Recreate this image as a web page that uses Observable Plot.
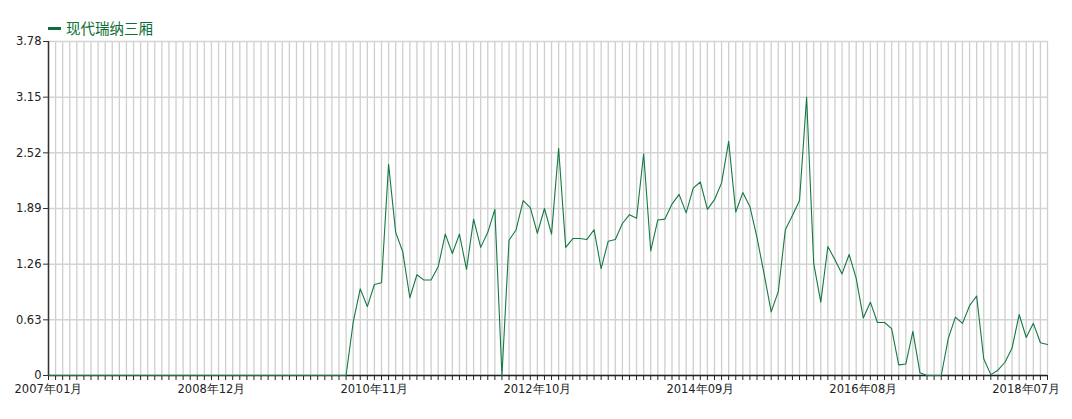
<!DOCTYPE html>
<html>
<head>
<meta charset="utf-8">
<script src="https://cdn.jsdelivr.net/npm/d3@7"></script>
<script src="https://cdn.jsdelivr.net/npm/@observablehq/plot@0.6"></script>
<style>
  html, body { margin: 0; padding: 0; background: #fff; }
  #wrap { position: relative; width: 1072px; height: 419px; }
  #legend { position: absolute; top: 18px; left: 48px; height: 20px; display: flex; align-items: center;
    font-family: "Noto Sans CJK SC", sans-serif; font-size: 14.5px; color: #0c6e38; line-height: 20px; }
  #legend .sw { display: inline-block; width: 13px; height: 3px; background: #0c6e38; margin-right: 5px; }
  svg { display: block; }
</style>
</head>
<body>
<div id="wrap">
<div id="chart"></div>
<div id="legend"><span class="sw"></span><span>现代瑞纳三厢</span></div>
</div>
<script>
const seriesName = "现代瑞纳三厢";
const startYear = 2007;
const monthCount = 142;
const months = [];
for (let i = 0; i < monthCount; i++) {
  const y = startYear + Math.floor(i / 12);
  const m = (i % 12) + 1;
  months.push(`${y}年${String(m).padStart(2, "0")}月`);
}
const values = [
  0,0,0,0,0,0,0,0,0,0,
  0,0,0,0,0,0,0,0,0,0,
  0,0,0,0,0,0,0,0,0,0,
  0,0,0,0,0,0,0,0,0,0,
  0,0,0,
  0.60,0.98,0.78,1.03,1.05,2.39,1.62,1.40,0.88,1.14,
  1.08,1.08,1.23,1.60,1.38,1.60,1.20,1.77,1.45,1.62,
  1.88,0,1.53,1.65,1.98,1.90,1.61,1.89,1.60,2.57,
  1.45,1.55,1.55,1.54,1.65,1.21,1.52,1.54,1.72,1.82,
  1.78,2.51,1.41,1.76,1.77,1.94,2.05,1.84,2.12,2.19,
  1.88,1.99,2.18,2.65,1.85,2.07,1.91,1.56,1.15,0.72,
  0.95,1.65,1.81,1.98,3.15,1.27,0.83,1.46,1.31,1.15,
  1.37,1.10,0.65,0.83,0.60,0.60,0.53,0.12,0.13,0.50,
  0.03,0,0,0,0.42,0.66,0.59,0.79,0.90,0.19,
  0.01,0.06,0.15,0.31,0.69,0.43,0.59,0.37,0.35
];
const yTicks = [0, 0.63, 1.26, 1.89, 2.52, 3.15, 3.78];
const xLabelTicks = ["2007年01月","2008年12月","2010年11月","2012年10月","2014年09月","2016年08月","2018年07月"];

const data = months.map((m, i) => ({month: m, value: values[i]}));

const chart = Plot.plot({
  width: 1072,
  height: 419,
  marginTop: 41,
  marginBottom: 44,
  marginLeft: 48,
  marginRight: 25,
  style: {fontFamily: "DejaVu Sans, sans-serif", fontSize: "11.5px", color: "#222", background: "#fff"},
  x: {type: "point", domain: months, padding: 0, round: false},
  y: {domain: [0, 3.78]},
  marks: [
    Plot.gridX(months, {stroke: "#cfcfcf", strokeOpacity: 1, strokeWidth: 1.3}),
    Plot.gridY(yTicks, {stroke: "#d4d4d4", strokeOpacity: 1, strokeWidth: 1.5}),
    Plot.axisY({ticks: yTicks, tickFormat: d => String(d), tickSize: 5, tickPadding: 2, label: null, stroke: "#333"}),
    Plot.axisX({ticks: months, tickFormat: () => "", tickSize: 5, label: null, stroke: "#222"}),
    Plot.axisX({ticks: xLabelTicks, tickSize: 0, tickPadding: 9, label: null}),
    Plot.ruleX([months[0]], {stroke: "#333", strokeWidth: 1.5}),
    Plot.ruleY([0], {stroke: "#222", strokeWidth: 1.5}),
    Plot.line(data, {x: "month", y: "value", stroke: "#147a42", strokeWidth: 1.1})
  ]
});
document.getElementById("chart").appendChild(chart);
</script>
</body>
</html>
